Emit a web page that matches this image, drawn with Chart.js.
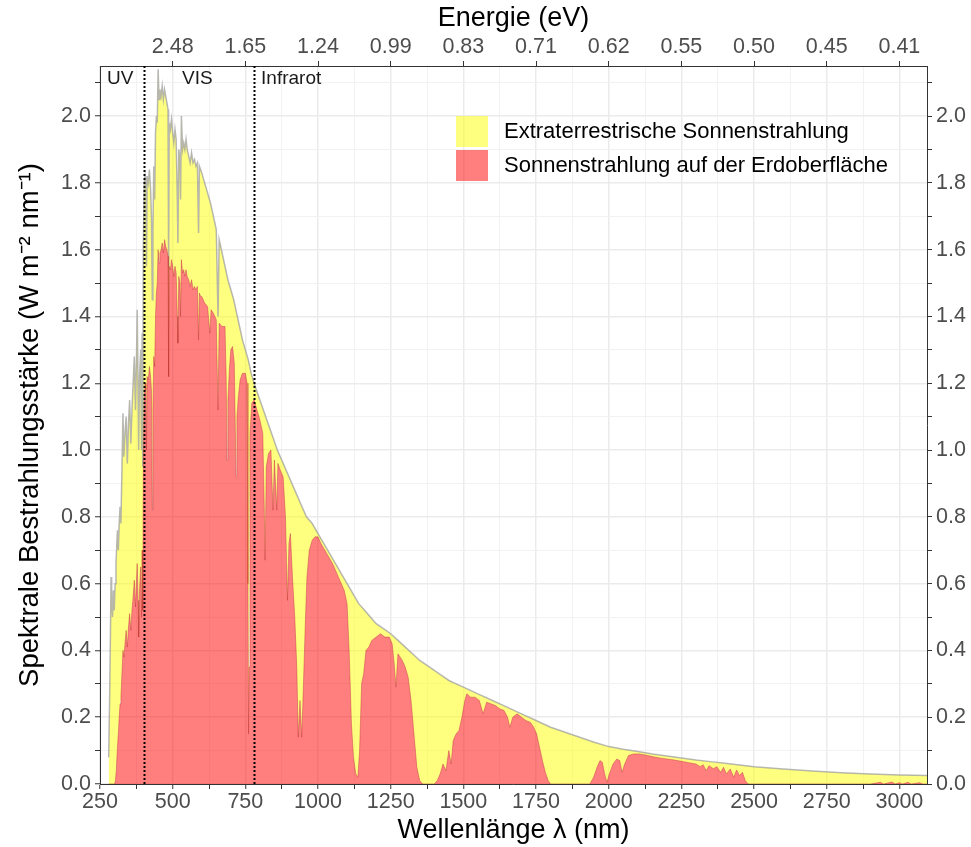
<!DOCTYPE html>
<html>
<head>
<meta charset="utf-8">
<script src="https://cdn.jsdelivr.net/npm/chart.js@4.4.1/dist/chart.umd.min.js"></script>
<style>
  html, body { margin: 0; padding: 0; background: #ffffff; }
</style>
</head>
<body>
<canvas id="spektrum" width="971" height="847"></canvas>
<script>
// Extraterrestrische Sonnenstrahlung (W m^-2 nm^-1)
const etNm = [280, 283, 286, 288, 290, 293, 296, 299, 302, 305, 308, 310, 313, 316, 319, 322, 325, 329, 332, 336,
  340, 344, 348, 352, 356, 360, 364, 368, 372, 376, 378, 381, 383, 386, 390, 393, 395, 397, 399, 402,
  405, 408, 410, 412, 416, 420, 424, 427, 430, 432, 435, 438, 441, 444, 447, 450, 453, 456, 460, 464,
  468, 472, 476, 480, 484, 486, 488, 492, 496, 500, 504, 508, 512, 516, 518, 521, 525, 527, 530, 534,
  538, 542, 546, 550, 555, 560, 565, 570, 575, 580, 585, 589, 592, 596, 600, 610, 620, 630, 640, 650,
  656, 660, 670, 680, 690, 700, 710, 720, 730, 740, 750, 760, 770, 780, 800, 820, 840, 860, 880, 900,
  920, 940, 960, 980, 1000, 1020, 1040, 1060, 1080, 1100, 1120, 1140, 1160, 1180, 1200, 1225, 1250, 1275, 1300, 1325,
  1350, 1375, 1400, 1425, 1450, 1475, 1500, 1550, 1600, 1650, 1700, 1750, 1800, 1850, 1900, 1950, 2000, 2050, 2100, 2150,
  2200, 2250, 2300, 2350, 2400, 2450, 2500, 2600, 2700, 2800, 2900, 3000, 3100];
const etWerte = [0.08, 0.25, 0.45, 0.62, 0.55, 0.50, 0.58, 0.52, 0.60, 0.66, 0.72, 0.76, 0.70, 0.78, 0.83, 0.78, 0.92, 1.11, 0.98, 1.05,
  1.10, 0.96, 1.08, 1.15, 1.02, 1.12, 1.20, 1.28, 1.12, 1.30, 1.42, 1.18, 1.00, 1.22, 1.30, 1.00, 1.35, 0.95, 1.60, 1.80,
  1.82, 1.79, 1.55, 1.82, 1.80, 1.84, 1.78, 1.70, 1.45, 1.65, 1.85, 1.75, 1.95, 2.00, 1.98, 2.14, 2.05, 2.08, 2.06, 2.09,
  2.05, 2.08, 2.06, 2.04, 2.02, 1.55, 1.98, 1.96, 1.99, 1.95, 1.92, 1.96, 1.93, 1.75, 1.62, 1.90, 1.88, 1.75, 2.00, 1.90,
  1.92, 1.90, 1.93, 1.90, 1.88, 1.86, 1.89, 1.86, 1.87, 1.85, 1.86, 1.65, 1.85, 1.84, 1.83, 1.80, 1.77, 1.74, 1.70, 1.66,
  1.40, 1.63, 1.59, 1.55, 1.51, 1.48, 1.45, 1.41, 1.37, 1.33, 1.30, 1.27, 1.23, 1.20, 1.15, 1.10, 1.05, 1.00, 0.96, 0.92,
  0.88, 0.84, 0.80, 0.78, 0.75, 0.72, 0.69, 0.66, 0.63, 0.60, 0.57, 0.54, 0.52, 0.50, 0.48, 0.465, 0.45, 0.43, 0.41, 0.39,
  0.37, 0.355, 0.34, 0.325, 0.31, 0.30, 0.29, 0.27, 0.25, 0.23, 0.21, 0.19, 0.17, 0.155, 0.14, 0.125, 0.112, 0.104, 0.097, 0.090,
  0.084, 0.078, 0.072, 0.067, 0.062, 0.057, 0.052, 0.045, 0.039, 0.034, 0.030, 0.027, 0.025];

// Sonnenstrahlung auf der Erdoberfläche (W m^-2 nm^-1)
const bodenNm = [280, 300, 303, 306, 310, 313, 316, 319, 322, 325, 329, 332, 336, 340, 344, 348, 352, 356, 360, 364,
  368, 372, 376, 378, 381, 383, 386, 390, 393, 395, 397, 399, 402, 405, 408, 410, 412, 416, 420, 424,
  427, 430, 432, 435, 438, 441, 444, 447, 450, 453, 456, 460, 464, 468, 472, 476, 480, 484, 486, 488,
  492, 496, 500, 504, 508, 512, 516, 518, 521, 525, 527, 530, 534, 538, 542, 546, 550, 555, 560, 565,
  570, 575, 580, 585, 589, 592, 596, 600, 610, 620, 628, 632, 640, 650, 656, 660, 670, 680, 684, 687,
  690, 695, 700, 706, 712, 718, 721, 726, 732, 740, 750, 756, 759, 761, 763, 766, 772, 780, 790, 800,
  810, 815, 818, 822, 830, 838, 845, 850, 858, 862, 870, 880, 888, 895, 900, 905, 912, 920, 927, 932,
  938, 944, 950, 957, 962, 970, 980, 990, 1000, 1010, 1030, 1050, 1070, 1090, 1100, 1107, 1115, 1122, 1130, 1137,
  1143, 1150, 1157, 1165, 1175, 1185, 1200, 1215, 1230, 1245, 1255, 1262, 1268, 1275, 1290, 1300, 1310, 1320, 1330, 1340,
  1350, 1360, 1380, 1400, 1410, 1420, 1430, 1440, 1450, 1458, 1465, 1475, 1485, 1495, 1505, 1512, 1525, 1540, 1555, 1568,
  1580, 1595, 1610, 1625, 1640, 1652, 1660, 1670, 1685, 1700, 1715, 1730, 1742, 1752, 1762, 1772, 1782, 1792, 1800, 1850,
  1900, 1935, 1948, 1960, 1970, 1978, 1986, 1994, 2002, 2015, 2028, 2038, 2046, 2055, 2068, 2085, 2105, 2125, 2150, 2175,
  2200, 2225, 2250, 2275, 2300, 2315, 2325, 2335, 2345, 2360, 2372, 2385, 2395, 2405, 2418, 2430, 2440, 2450, 2460, 2470,
  2480, 2900, 2935, 2945, 2975, 2985, 3000, 3010, 3030, 3040, 3070, 3080, 3100];
const bodenWerte = [0, 0, 0.01, 0.04, 0.11, 0.15, 0.20, 0.24, 0.26, 0.32, 0.40, 0.38, 0.42, 0.46, 0.41, 0.47, 0.51, 0.46, 0.52, 0.56,
  0.61, 0.53, 0.62, 0.66, 0.55, 0.44, 0.58, 0.65, 0.50, 0.70, 0.52, 0.95, 1.15, 1.20, 1.18, 1.00, 1.22, 1.21, 1.25, 1.22,
  1.18, 0.82, 1.12, 1.28, 1.25, 1.40, 1.47, 1.50, 1.60, 1.56, 1.59, 1.60, 1.62, 1.59, 1.63, 1.61, 1.60, 1.58, 1.22, 1.55,
  1.54, 1.57, 1.55, 1.52, 1.55, 1.53, 1.40, 1.32, 1.52, 1.50, 1.40, 1.57, 1.53, 1.54, 1.52, 1.54, 1.52, 1.51, 1.49, 1.51,
  1.48, 1.49, 1.48, 1.49, 1.33, 1.47, 1.46, 1.46, 1.44, 1.43, 1.35, 1.42, 1.41, 1.39, 1.12, 1.38, 1.37, 1.37, 1.22, 0.97,
  1.15, 1.24, 1.30, 1.31, 1.26, 0.92, 1.10, 1.16, 1.21, 1.23, 1.23, 1.20, 0.60, 0.15, 0.35, 1.05, 1.14, 1.15, 1.12, 1.09,
  1.05, 0.83, 0.67, 0.95, 0.99, 1.00, 0.82, 0.97, 0.82, 0.96, 0.94, 0.92, 0.80, 0.55, 0.72, 0.75, 0.62, 0.50, 0.35, 0.14,
  0.25, 0.14, 0.30, 0.50, 0.62, 0.70, 0.73, 0.74, 0.74, 0.72, 0.69, 0.66, 0.62, 0.58, 0.54, 0.40, 0.18, 0.08, 0.03, 0.02,
  0.10, 0.30, 0.33, 0.40, 0.41, 0.43, 0.44, 0.45, 0.44, 0.44, 0.42, 0.36, 0.29, 0.39, 0.37, 0.35, 0.32, 0.25, 0.15, 0.05,
  0.01, 0, 0, 0, 0.01, 0.03, 0.06, 0.04, 0.10, 0.06, 0.13, 0.15, 0.16, 0.20, 0.25, 0.27, 0.26, 0.26, 0.25, 0.21,
  0.245, 0.24, 0.235, 0.225, 0.22, 0.20, 0.17, 0.20, 0.21, 0.20, 0.19, 0.185, 0.17, 0.15, 0.11, 0.07, 0.035, 0.01, 0, 0,
  0, 0, 0.02, 0.05, 0.07, 0.065, 0.03, 0.005, 0.03, 0.06, 0.075, 0.07, 0.035, 0.06, 0.085, 0.09, 0.09, 0.087, 0.082, 0.078,
  0.075, 0.072, 0.068, 0.064, 0.060, 0.052, 0.058, 0.040, 0.055, 0.046, 0.052, 0.035, 0.050, 0.030, 0.045, 0.020, 0.042, 0.025, 0.035, 0.010,
  0, 0, 0.005, 0, 0.006, 0, 0.004, 0, 0.005, 0, 0.004, 0, 0];

// Achsenbeschriftungen
const energieNm = [500, 750, 1000, 1250, 1500, 1750, 2000, 2250, 2500, 2750, 3000];
const energieLabels = ["2.48", "1.65", "1.24", "0.99", "0.83", "0.71", "0.62", "0.55", "0.50", "0.45", "0.41"];
const bereichGrenzenNm = [400, 780];
const bereichLabels = ["UV", "VIS", "Infrarot"];
const bereichLabelNm = [274, 532, 804];
const legendeTexte = ["Extraterrestrische Sonnenstrahlung", "Sonnenstrahlung auf der Erdoberfläche"];

const ctx = document.getElementById("spektrum").getContext("2d");
Chart.defaults.font.family = "'Liberation Sans', Arial, sans-serif";

const xMajor = (v) => v % 250 === 0;
const yMajor = (v) => Math.round(v * 10) % 2 === 0;
const gridFarbe = (c) => (c.tick && xMajor(c.tick.value) ? "#EBEBEB" : "#F1F1F1");
const gridFarbeY = (c) => (c.tick && yMajor(c.tick.value) ? "#EBEBEB" : "#F1F1F1");

const tickFont = { size: 21.5 };
const tickFarbe = "#4D4D4D";

// Grenzlinien und Bereichsnamen
const bereichePlugin = {
  id: "bereiche",
  afterDatasetsDraw(chart) {
    const { ctx, chartArea, scales } = chart;
    ctx.save();
    ctx.strokeStyle = "#000";
    ctx.lineWidth = 2;
    ctx.setLineDash([2, 2]);
    bereichGrenzenNm.forEach((nm) => {
      const x = Math.round(scales.x.getPixelForValue(nm)) + 0.5;
      ctx.beginPath();
      ctx.moveTo(x, chartArea.top);
      ctx.lineTo(x, chartArea.bottom);
      ctx.stroke();
    });
    ctx.setLineDash([]);
    ctx.fillStyle = "#1A1A1A";
    ctx.font = "19px 'Liberation Sans', Arial, sans-serif";
    ctx.textBaseline = "middle";
    ctx.textAlign = "left";
    bereichLabels.forEach((t, i) => {
      ctx.fillText(t, scales.x.getPixelForValue(bereichLabelNm[i]), chartArea.top + 13);
    });
    ctx.restore();
  },
};

// Legende innerhalb des Diagramms
const legendePlugin = {
  id: "legende",
  afterDraw(chart) {
    const { ctx, chartArea } = chart;
    const farben = ["rgba(255,255,0,0.5)", "rgba(255,0,0,0.5)"];
    const left = chartArea.left + 356;
    const top = chartArea.top + 50;
    ctx.save();
    ctx.font = "22px 'Liberation Sans', Arial, sans-serif";
    ctx.textBaseline = "middle";
    ctx.textAlign = "left";
    legendeTexte.forEach((t, i) => {
      const y = top + i * 34;
      ctx.fillStyle = farben[i];
      ctx.fillRect(left, y, 32, 31);
      ctx.fillStyle = "#000";
      ctx.fillText(t, left + 48, y + 16);
    });
    ctx.restore();
  },
};

new Chart(ctx, {
  type: "line",
  data: {
    datasets: [
      {
        label: legendeTexte[1],
        data: bodenNm.map((x, i) => ({ x: x, y: bodenWerte[i] })),
        borderColor: "rgba(190,50,50,0.45)",
        borderWidth: 1,
        backgroundColor: "rgba(255,0,0,0.5)",
        fill: "origin",
        pointRadius: 0,
        tension: 0,
      },
      {
        label: legendeTexte[0],
        data: etNm.map((x, i) => ({ x: x, y: etWerte[i] })),
        borderColor: "rgba(160,160,160,0.75)",
        borderWidth: 1.5,
        backgroundColor: "rgba(255,255,0,0.5)",
        fill: "-1",
        pointRadius: 0,
        tension: 0,
      },
    ],
  },
  options: {
    responsive: false,
    animation: false,
    layout: { padding: 0 },
    plugins: {
      legend: { display: false },
      tooltip: { enabled: false },
    },
    scales: {
      x: {
        type: "linear",
        position: "bottom",
        min: 250,
        max: 3095,
        ticks: {
          stepSize: 125,
          includeBounds: false,
          autoSkip: false,
          maxRotation: 0,
          minRotation: 0,
          padding: 0,
          color: tickFarbe,
          font: tickFont,
          callback: (v) => (xMajor(v) ? String(v) : ""),
        },
        grid: { color: gridFarbe, lineWidth: (c) => (c.tick && xMajor(c.tick.value) ? 1.5 : 0.9), tickLength: 5, tickColor: "#333", tickWidth: 1 },
        border: { color: "#333", width: 1 },
        title: { display: true, text: "Wellenlänge λ (nm)", color: "#000", font: { size: 27 }, padding: { top: 0, bottom: 0 } },
        afterFit: (s) => { s.height = 63; },
      },
      x2: {
        type: "linear",
        position: "top",
        min: 250,
        max: 3095,
        afterBuildTicks: (s) => { s.ticks = energieNm.map((v) => ({ value: v })); },
        ticks: {
          autoSkip: false,
          maxRotation: 0,
          minRotation: 0,
          padding: 1,
          color: tickFarbe,
          font: tickFont,
          callback: (v, i) => energieLabels[i],
        },
        grid: { drawOnChartArea: false, tickLength: 5, tickColor: "#333", tickWidth: 1 },
        border: { color: "#333", width: 1 },
        title: { display: true, text: "Energie (eV)", color: "#000", font: { size: 27 }, padding: { top: 2, bottom: 0 } },
        afterFit: (s) => { s.height = 66; },
      },
      y: {
        position: "left",
        min: 0,
        max: 2.15,
        ticks: {
          stepSize: 0.1,
          includeBounds: false,
          autoSkip: false,
          padding: 4,
          color: tickFarbe,
          font: tickFont,
          callback: (v) => (yMajor(v) ? v.toFixed(1) : ""),
        },
        grid: { color: gridFarbeY, lineWidth: (c) => (c.tick && yMajor(c.tick.value) ? 1.5 : 0.9), tickLength: 5, tickColor: "#333", tickWidth: 1 },
        border: { color: "#333", width: 1 },
        title: { display: true, text: "Spektrale Bestrahlungsstärke (W m⁻² nm⁻¹)", color: "#000", font: { size: 27.5 }, padding: { top: 14, bottom: 0 } },
        afterFit: (s) => { s.width = 100; },
      },
      y2: {
        position: "right",
        min: 0,
        max: 2.15,
        ticks: {
          stepSize: 0.1,
          includeBounds: false,
          autoSkip: false,
          padding: 4,
          color: tickFarbe,
          font: tickFont,
          callback: (v) => (yMajor(v) ? v.toFixed(1) : ""),
        },
        grid: { drawOnChartArea: false, tickLength: 5, tickColor: "#333", tickWidth: 1 },
        border: { color: "#333", width: 1 },
        afterFit: (s) => { s.width = 44; },
      },
    },
  },
  plugins: [bereichePlugin, legendePlugin],
});
</script>
</body>
</html>
